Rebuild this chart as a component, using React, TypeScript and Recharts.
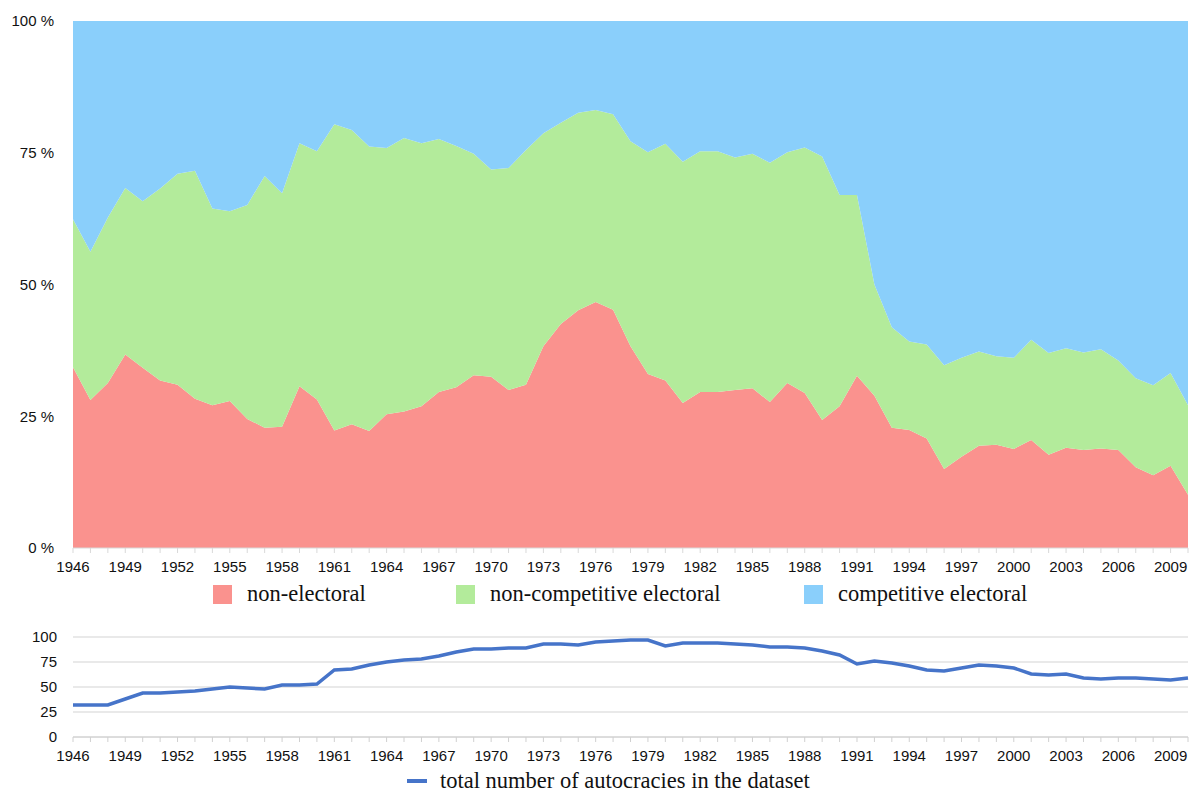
import React from 'react';
import { AreaChart, Area, LineChart, Line, XAxis, YAxis, CartesianGrid, Legend } from 'recharts';

const years = [
  1946, 1947, 1948, 1949, 1950, 1951, 1952, 1953, 1954, 1955, 1956, 1957, 1958, 1959, 1960,
  1961, 1962, 1963, 1964, 1965, 1966, 1967, 1968, 1969, 1970, 1971, 1972, 1973, 1974, 1975,
  1976, 1977, 1978, 1979, 1980, 1981, 1982, 1983, 1984, 1985, 1986, 1987, 1988, 1989, 1990,
  1991, 1992, 1993, 1994, 1995, 1996, 1997, 1998, 1999, 2000, 2001, 2002, 2003, 2004, 2005,
  2006, 2007, 2008, 2009, 2010,
];

// shares in percent
const nonElectoral = [
  34.3, 28.1, 31.3, 36.7, 34.2, 31.8, 31.0, 28.3, 27.1, 27.9, 24.5, 22.8, 23.0, 30.7, 28.2,
  22.3, 23.5, 22.2, 25.4, 25.9, 26.9, 29.6, 30.5, 32.8, 32.5, 30.0, 31.0, 38.3, 42.5, 45.1,
  46.7, 45.2, 38.3, 33.0, 31.8, 27.5, 29.6, 29.6, 30.0, 30.3, 27.7, 31.3, 29.4, 24.3, 26.9,
  32.7, 28.9, 22.8, 22.4, 20.8, 15.0, 17.3, 19.4, 19.6, 18.8, 20.5, 17.7, 19.0, 18.6, 18.9,
  18.6, 15.3, 13.8, 15.6, 10.1,
];
const nonCompetitive = [
  28.1, 28.1, 31.4, 31.6, 31.6, 36.4, 40.0, 43.3, 37.3, 36.0, 40.6, 47.8, 44.3, 46.1, 47.1,
  58.1, 55.8, 54.0, 50.5, 51.9, 49.9, 48.0, 45.8, 42.0, 39.3, 42.1, 44.5, 40.4, 38.2, 37.5,
  36.4, 37.1, 38.9, 42.1, 44.9, 45.8, 45.7, 45.7, 44.1, 44.5, 45.4, 43.8, 46.6, 50.0, 40.1,
  34.3, 21.1, 19.1, 16.8, 17.8, 19.7, 18.8, 17.9, 16.8, 17.3, 19.0, 19.3, 18.9, 18.5, 18.8,
  17.0, 16.9, 17.1, 17.6, 17.0,
];
const competitive = [
  37.6, 43.8, 37.3, 31.7, 34.2, 31.8, 29.0, 28.4, 35.6, 36.1, 34.9, 29.4, 32.7, 23.2, 24.7,
  19.6, 20.7, 23.8, 24.1, 22.2, 23.2, 22.4, 23.7, 25.2, 28.2, 27.9, 24.5, 21.3, 19.3, 17.4,
  16.9, 17.7, 22.8, 24.9, 23.3, 26.7, 24.7, 24.7, 25.9, 25.2, 26.9, 24.9, 24.0, 25.7, 33.0,
  33.0, 50.0, 58.1, 60.8, 61.4, 65.3, 63.9, 62.7, 63.6, 63.9, 60.5, 63.0, 62.1, 62.9, 62.3,
  64.4, 67.8, 69.1, 66.8, 72.9,
];
const totalAutocracies = [
  32, 32, 32, 38, 44, 44, 45, 46, 48, 50, 49, 48, 52, 52, 53, 67, 68, 72, 75, 77, 78, 81, 85,
  88, 88, 89, 89, 93, 93, 92, 95, 96, 97, 97, 91, 94, 94, 94, 93, 92, 90, 90, 89, 86, 82, 73,
  76, 74, 71, 67, 66, 69, 72, 71, 69, 63, 62, 63, 59, 58, 59, 59, 58, 57, 59,
];

const shareTicks = [0, 25, 50, 75, 100];
const countTicks = [0, 25, 50, 75, 100];

const C_RED = '#fa928e';
const C_GREEN = '#b3eb9b';
const C_BLUE = '#8acffb';
const C_LINE = '#4674c9';

const AXIS_FONT = '"Liberation Sans", Arial, Helvetica, sans-serif';
const LEGEND_FONT = '"Liberation Serif", "Times New Roman", serif';

const shareData = years.map((y, i) => ({
  year: y,
  nonElectoral: nonElectoral[i],
  nonCompetitive: nonCompetitive[i],
  competitive: competitive[i],
}));
const countData = years.map((y, i) => ({ year: y, total: totalAutocracies[i] }));

const YearTick = (props: any) => {
  const { x, y, payload } = props;
  if ((payload.value - 1946) % 3 !== 0) return null;
  return (
    <text x={x} y={y} dy="0.75em" textAnchor="middle" fill="#111" fontSize={15} fontFamily={AXIS_FONT}>
      {payload.value}
    </text>
  );
};

const shareLegend = [
  { label: 'non-electoral', color: C_RED, width: 243 },
  { label: 'non-competitive electoral', color: C_GREEN, width: 348 },
  { label: 'competitive electoral', color: C_BLUE, width: 260 },
];

const ShareLegend = () => (
  <div style={{ display: 'flex', paddingLeft: 213, fontFamily: LEGEND_FONT, fontSize: 22.5, color: '#111' }}>
    {shareLegend.map((it) => (
      <div key={it.label} style={{ display: 'flex', alignItems: 'center', width: it.width }}>
        <span style={{ width: 19, height: 19, background: it.color, marginRight: 15, display: 'inline-block' }} />
        <span>{it.label}</span>
      </div>
    ))}
  </div>
);

const CountLegend = () => (
  <div style={{ display: 'flex', alignItems: 'center', paddingLeft: 407, fontFamily: LEGEND_FONT, fontSize: 22.5, color: '#111' }}>
    <span style={{ width: 20, height: 4, background: C_LINE, marginRight: 13, display: 'inline-block' }} />
    <span>total number of autocracies in the dataset</span>
  </div>
);

const xTicks = years;

export default function App() {
  return (
    <div style={{ position: 'absolute', left: 0, top: 0, width: 1189, height: 792, background: '#fff' }}>
      <div style={{ position: 'absolute', left: 0, top: 0 }}>
        <AreaChart width={1189} height={620} data={shareData} margin={{ top: 21, right: 1, left: 0, bottom: 40 }}>
          <XAxis
            dataKey="year"
            type="number"
            domain={[1946, 2010]}
            ticks={xTicks}
            interval={0}
            tick={<YearTick />}
            tickSize={5}
            tickMargin={8}
            height={32}
            stroke="#d9d9d9"
          />
          <YAxis
            domain={[0, 100]}
            ticks={shareTicks}
            width={73}
            axisLine={false}
            tickLine={false}
            tickSize={0}
            tickMargin={19}
            tickFormatter={(v) => `${v} %`}
            tick={{ fill: '#111', fontSize: 15, fontFamily: AXIS_FONT }}
          />
          <Area type="linear" dataKey="nonElectoral" stackId="a" stroke="none" fill={C_RED} fillOpacity={1} isAnimationActive={false} />
          <Area type="linear" dataKey="nonCompetitive" stackId="a" stroke="none" fill={C_GREEN} fillOpacity={1} isAnimationActive={false} />
          <Area type="linear" dataKey="competitive" stackId="a" stroke="none" fill={C_BLUE} fillOpacity={1} isAnimationActive={false} />
          <Legend
            verticalAlign="middle"
            align="center"
            layout="horizontal"
            content={<ShareLegend />}
            wrapperStyle={{ top: 581, left: 0, width: 1189 }}
          />
        </AreaChart>
      </div>
      <div style={{ position: 'absolute', left: 0, top: 620 }}>
        <LineChart width={1189} height={172} data={countData} margin={{ top: 17, right: 1, left: 0, bottom: 22 }}>
          <CartesianGrid vertical={false} stroke="#d4d4d4" strokeWidth={1.2} />
          <XAxis
            dataKey="year"
            type="number"
            domain={[1946, 2010]}
            ticks={xTicks}
            interval={0}
            tick={<YearTick />}
            tickSize={5}
            tickMargin={8}
            height={33}
            stroke="#d0d0d0"
          />
          <YAxis
            domain={[0, 100]}
            ticks={countTicks}
            width={73}
            axisLine={false}
            tickLine={false}
            tickSize={0}
            tickMargin={16}
            tick={{ fill: '#111', fontSize: 15, fontFamily: AXIS_FONT }}
          />
          <Line type="linear" dataKey="total" stroke={C_LINE} strokeWidth={3.5} dot={false} isAnimationActive={false} />
          <Legend
            verticalAlign="middle"
            align="center"
            layout="horizontal"
            content={<CountLegend />}
            wrapperStyle={{ top: 148, left: 0, width: 1189 }}
          />
        </LineChart>
      </div>
    </div>
  );
}
